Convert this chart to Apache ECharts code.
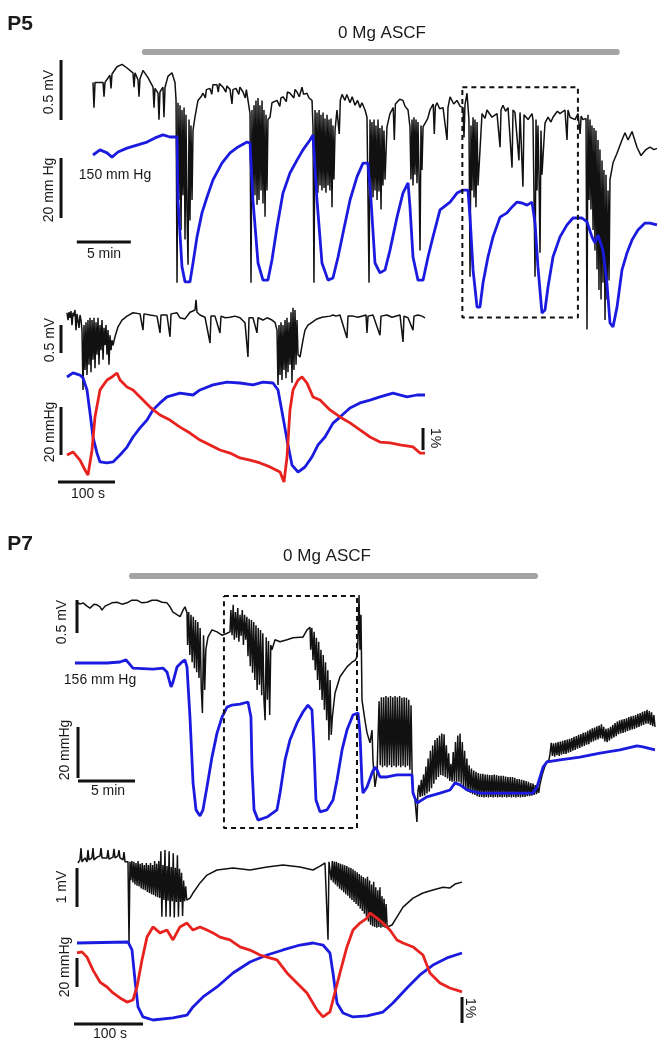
<!DOCTYPE html>
<html>
<head>
<meta charset="utf-8">
<title>P5 / P7 0 Mg ASCF</title>
<script src="https://cdn.jsdelivr.net/npm/echarts@6/dist/echarts.min.js"></script>
<style>
  html, body { margin: 0; padding: 0; background: #fff; }
  #chart { width: 670px; height: 1050px; }
</style>
</head>
<body>
<div id="chart"></div>
<script>
// ---------- P5 overview: [min, mV] and [min, mmHg]
const P5_BLACK = [
    [0.00,0.18],[0.09,-0.03],[0.19,0.18],[0.46,0.18],[0.93,0.18],[1.02,0.06],[1.11,0.18],[1.57,0.24],[1.67,0.13],[1.76,0.25],
    [2.22,0.31],[2.69,0.33],[3.15,0.30],[3.70,0.26],[3.80,0.14],[3.89,0.26],[4.17,0.20],[4.26,0.06],[4.35,0.21],[4.63,0.28],
    [5.09,0.22],[5.56,0.14],[5.65,-0.03],[5.74,0.13],[6.02,0.09],[6.11,-0.13],[6.20,0.10],[6.48,0.14],[6.57,-0.11],[6.67,0.14],
    [6.94,0.23],[7.31,0.26],[7.59,0.18],[7.69,0.03],[7.78,-1.49],[7.87,0.01],
    [7.96,-0.80],[8.06,-0.01],[8.15,-1.05],[8.24,-0.05],[8.33,-0.76],[8.43,-0.03],[8.52,-1.13],[8.61,-0.09],[8.70,-0.88],[8.80,-1.34],
    [8.89,-0.13],[8.98,-0.97],[9.07,-0.18],[9.17,-0.80],[9.26,-0.22],
    [9.44,-0.11],[9.72,0.03],[10.0,0.06],[10.19,0.09],[10.4,0.05],[10.5,0.12],[10.83,0.13],[11.0,0.08],[11.1,0.16],[11.48,0.16],
    [11.6,0.10],[11.7,0.17],[12.04,0.14],[12.3,0.10],[12.4,0.15],[12.69,0.12],[12.87,0.00],[12.96,0.12],[13.24,0.13],[13.5,0.08],
    [13.6,0.14],[13.89,0.10],[14.1,0.05],[14.2,0.12],[14.35,0.12],[14.54,-0.08],[14.63,-1.49],[14.72,-0.05],
    [14.81,-0.80],[14.91,-0.01],[15.00,-0.76],[15.09,0.03],[15.19,-0.84],[15.28,0.05],[15.37,-0.80],[15.46,-0.01],[15.56,-0.72],[15.65,0.03],
    [15.74,-0.83],[15.83,-0.05],[15.93,-0.94],[16.02,-0.09],[16.11,-0.72],[16.20,-0.13],
    [16.39,-0.11],[16.57,0.01],[17.04,0.03],[17.3,-0.02],[17.4,0.05],[17.59,0.06],[17.9,0.02],[18.0,0.10],[18.24,0.09],[18.6,0.05],
    [18.7,0.12],[18.89,0.10],[19.1,0.06],[19.35,0.14],[19.5,0.08],[19.81,0.09],[20.0,0.05],[20.28,0.03],[20.37,-0.19],
    [20.46,-1.49],[20.56,-0.05],
    [20.65,-0.72],[20.74,-0.07],[20.83,-0.74],[20.93,-0.05],[21.02,-0.68],[21.11,-0.09],[21.20,-0.72],[21.30,-0.07],[21.39,-0.70],[21.48,-0.12],
    [21.57,-0.74],[21.67,-0.09],[21.76,-0.68],[21.85,-0.13],[21.94,-0.72],[22.04,-0.12],[22.13,-0.86],[22.22,-0.18],[22.31,-0.63],[22.41,-0.22],
    [22.59,-0.05],[22.8,-0.25],[22.9,0.03],[23.06,0.08],[23.33,0.03],[23.5,0.08],[23.80,0.01],[24.0,0.06],[24.26,-0.01],[24.5,0.03],
    [24.72,-0.03],[24.9,0.01],[25.19,-0.05],[25.37,-0.11],
    [25.56,-1.49],[25.65,-0.13],
    [25.74,-0.76],[25.83,-0.15],[25.93,-0.78],[26.02,-0.13],[26.11,-0.72],[26.20,-0.18],[26.30,-0.80],[26.39,-0.13],[26.48,-0.73],[26.57,-0.20],
    [26.67,-0.88],[26.76,-0.18],[26.85,-0.68],[26.94,-0.22],[27.04,-0.63],
    [27.22,-0.19],[27.50,-0.08],[27.8,-0.03],[27.9,-0.30],[28.0,0.0],[28.15,-0.01],[28.4,0.04],[28.70,0.03],[28.9,-0.02],[29.17,-0.05],
    [29.35,-0.19],
    [29.44,-0.63],[29.54,-0.13],[29.63,-0.68],[29.72,-0.11],[29.81,-0.59],[29.91,-0.13],[30.00,-0.66],[30.09,-0.15],[30.19,-0.62],[30.28,-1.22],
    [30.37,-0.18],[30.46,-0.55],[30.56,-0.19],
    [30.74,-0.19],[31.0,-0.12],[31.20,-0.05],[31.5,0.0],[31.6,-0.25],[31.7,-0.02],[31.85,0.01],[32.1,-0.04],[32.41,-0.03],[32.78,-0.30],
    [32.87,-0.03],[33.06,0.06],[33.4,0.0],[33.70,0.03],[34.0,-0.02],[34.26,-0.03],[34.35,-0.28],[34.44,-0.01],[34.63,0.09],
    [34.81,-0.13],[34.91,-1.44],[35.00,-0.18],[35.09,-0.72],[35.19,-0.11],[35.28,-0.78],[35.37,-0.13],[35.46,-0.86],[35.56,-0.15],[35.65,-0.68],
    [36.02,-0.08],[36.3,-0.12],[36.48,-0.05],[36.94,-0.11],[37.41,-0.08],[37.69,-0.36],[37.78,-0.05],[37.96,-0.01],[38.2,-0.06],[38.43,-0.03],
    [38.80,-0.53],[38.89,-0.05],[39.07,-0.07],[39.44,-0.47],[39.54,-0.07],[39.81,-0.69],[39.91,-0.09],[40.28,-0.13],[40.65,-0.08],
    [40.74,-0.13],[40.93,-1.44],[41.02,-0.13],[41.11,-0.72],[41.20,-0.18],[41.30,-0.63],[41.39,-1.24],[41.48,-0.22],[41.57,-0.59],
    [41.85,-0.16],[42.13,-0.11],[42.4,-0.15],[42.59,-0.11],[43.0,-0.06],[43.24,-0.08],[43.70,-0.05],[43.89,-0.30],[43.98,-0.05],[44.17,-0.11],
    [44.63,-0.13],[44.91,-0.08],[45.1,-0.25],[45.2,-0.10],[45.37,-0.13],[45.65,-0.12],[45.74,-1.88],[45.83,-0.09],
    [45.93,-0.80],[46.02,-0.13],[46.11,-0.88],[46.20,-0.18],[46.30,-1.05],[46.39,-0.20],[46.48,-1.22],[46.57,-0.22],[46.67,-1.38],[46.76,-0.30],
    [46.85,-1.55],[46.94,-0.38],[47.04,-1.63],[47.13,-0.47],[47.22,-1.49],[47.31,-0.55],[47.41,-1.80],[47.50,-0.59],[47.59,-1.63],[47.69,-0.72],
    [47.78,-1.47],[47.87,-0.63],
    [48.15,-0.49],[48.52,-0.41],[48.98,-0.30],[49.26,-0.24],[49.54,-0.30],[49.91,-0.23],[50.37,-0.36],[50.74,-0.43],[51.20,-0.38],[51.57,-0.36],
    [51.94,-0.38],[52.22,-0.37]
];
const P5_BLUE = [
    [0,150],[0.65,151.7],[1.30,150.7],[1.76,149.3],[2.31,151],[3.15,152.3],[4.07,153.3],[5.00,154.3],[5.74,155.7],[6.48,156.7],
    [7.13,156],[7.78,156],[7.87,135],[8.24,112.7],[8.52,107.7],[8.98,107.7],[9.26,114],[9.63,122.7],[10.09,130.7],[10.56,136],
    [11.11,141.7],[11.94,147.3],[12.69,150.7],[13.43,152.7],[14.26,154.3],[14.54,154],[14.81,135],[15.28,114],[15.74,108.3],[16.20,108.3],
    [16.57,115],[17.04,126],[17.59,137.3],[18.24,144],[18.89,148.3],[19.44,151.7],[20.09,155],[20.37,156.7],[20.74,135],[21.20,114],
    [21.76,108.3],[22.22,109],[22.69,116],[23.15,124],[23.80,135],[24.44,142.7],[25.00,147.3],[25.46,147.3],[25.74,135],[26.11,114],
    [26.57,110.7],[27.04,111.7],[27.50,118.3],[28.15,129.3],[28.70,137.3],[29.17,140.7],[29.35,132.7],[29.63,116],[30.09,108.3],[30.56,108.3],
    [31.02,116],[31.48,122.7],[32.13,131.7],[33.06,134.3],[33.70,137.3],[34.26,138.3],[34.72,138.3],[34.91,129.3],[35.19,111.7],[35.56,99.3],
    [35.83,99.3],[36.11,107.3],[36.57,116],[37.04,122.7],[37.69,129.3],[38.33,130.7],[38.80,132.7],[39.26,134.3],[39.72,134],[40.19,133.3],
    [40.65,134.3],[40.93,127.3],[41.20,112.7],[41.57,97.3],[41.85,98.3],[42.13,106],[42.59,116],[43.24,122.7],[43.89,126.7],[44.44,129],
    [45.28,129],[45.74,127.7],[46.20,122.7],[46.48,120.7],[46.76,123.3],[47.22,118.3],[47.59,107.3],[47.87,94],[48.15,92.7],[48.52,99.3],
    [48.98,111.7],[49.44,117.3],[49.91,121.7],[50.46,125],[51.11,127.3],[51.57,127.3],[52.22,126.7]
];
// drug bar, zoom window and scale bars of the P5 overview
const P5_DRUG = [[4.8,0.433],[48.5,0.433]];
const P5_BOX = [[34.2,0.14],[44.9,0.14],[44.9,-1.78],[34.2,-1.78],[34.2,0.14]];
const P5_BAR_MV = [[-2.96,0.367],[-2.96,-0.133]];
const P5_BAR_HG = [[-2.96,149],[-2.96,129]];
const P5_BAR_MIN = [[-1.5,-1.15],[3.5,-1.15]];

// ---------- P5 detail: [s, mV], [s, mmHg], [s, %]
const P5D_BLACK = [
    [0,0.04],[1.8,-0.09],[3.5,0.05],[5.3,-0.05],[7.0,0.07],[8.8,-0.18],[10.5,0.04],[12.3,-0.02],[14.0,0.09],[15.8,-0.27],
    [17.5,0.02],[19.3,0.05],[21.1,-0.23],[22.8,0],[24.6,-0.09],
    [26.3,-0.27],[28.1,-1.34],[29.8,-0.18],[31.6,-0.98],[33.3,-0.13],[35.1,-1.07],[36.8,-0.09],[38.6,-0.89],[40.4,-0.05],[42.1,-1.02],
    [43.9,-0.09],[45.6,-0.80],[47.4,-0.05],[49.1,-0.95],[50.9,-0.13],[52.6,-0.71],[54.4,-0.05],[56.1,-0.89],[57.9,-0.18],[59.6,-0.63],
    [61.4,-0.09],[63.2,-0.80],[64.9,-0.23],[66.7,-0.54],[68.4,-0.18],[70.2,-0.71],[71.9,-0.27],[73.7,-0.89],[75.4,-0.36],[77.2,-0.63],
    [78.9,-0.45],
    [80.7,-0.54],[84.2,-0.39],[89.5,-0.21],[96.5,-0.09],[105.3,-0.02],[115.8,0.04],[128.1,0.02],[133.3,-0.27],[135.1,0.02],[145.6,0],
    [157.9,-0.02],[163.2,-0.32],[164.9,0],[175.4,0],[180.7,-0.39],[182.5,0.02],[193.0,0.04],[198.2,-0.05],[207.0,-0.07],[215.8,0.05],
    [224.6,0.09],[226.3,0.27],[228.1,0.05],[233.3,0],[242.1,-0.04],[250.9,-0.50],[252.6,-0.02],[259.6,-0.02],[268.4,-0.32],[270.2,-0.02],
    [277.2,-0.05],[286.0,-0.04],[294.7,-0.02],[303.5,-0.05],[312.3,-0.14],[317.5,-0.75],[319.3,-0.05],[326.3,-0.05],[333.3,-0.32],[335.1,-0.05],
    [343.9,-0.09],[350.9,-0.05],[359.6,-0.09],[364.9,-0.13],
    [368.4,-0.27],[370.2,-1.25],[371.9,-0.18],[373.7,-1.07],[375.4,-0.13],[377.2,-1.16],[378.9,-0.18],[380.7,-0.98],[382.5,-0.09],[384.2,-1.13],
    [386.0,-0.05],[387.7,-1.02],[389.5,-0.13],[391.2,-0.89],[393.0,0.05],[394.7,-1.21],[396.5,0.13],[398.2,-0.98],[400.0,0.09],[401.8,-0.89],
    [403.5,-0.09],[405.3,-0.71],
    [408.8,-0.75],[414.0,-0.45],[417.5,-0.27],[422.8,-0.18],[429.8,-0.13],[438.6,-0.07],[447.4,-0.04],[461.4,-0.02],[466.7,0],[471.9,-0.02],
    [478.9,0],[491.2,-0.41],[493.0,-0.02],[501.8,-0.02],[510.5,-0.04],[524.6,0],[526.3,-0.32],[528.1,-0.02],[536.8,0],[549.1,-0.36],
    [550.9,-0.02],[561.4,0],[570.2,-0.04],[584.2,0],[589.5,-0.48],[591.2,-0.02],[598.2,-0.05],[607.0,-0.27],[608.8,-0.02],[615.8,0],
    [622.8,-0.02],[628.1,-0.05]
];
const P5D_BLUE = [
    [0,150],[10.5,151.7],[22.8,150.8],[28.1,149.6],[35.1,144.6],[40.4,135],[45.6,125],[52.6,118.3],[57.9,114.6],[70.2,114.2],
    [80.7,114.6],[93.0,117.5],[105.3,120.8],[115.8,125],[128.1,128.8],[140.4,132.1],[150.9,136.3],[163.2,139.2],[175.4,141.7],[198.2,143.3],
    [221.1,142.5],[233.3,144.6],[256.1,146.7],[280.7,147.9],[303.5,147.5],[326.3,146.7],[343.9,147.9],[361.4,147.5],[370.2,144.6],[378.9,133.3],
    [386.0,123.8],[394.7,113.3],[405.3,110.4],[417.5,112.5],[429.8,116.7],[440.4,121.7],[452.6,125],[466.7,130.8],[478.9,133.3],[496.5,137.1],
    [514.0,139.2],[531.6,140.4],[549.1,141.7],[571.9,143.3],[596.5,141.7],[614.0,142.5],[628.1,142.5]
];
const P5D_RED = [
    [0,0.68],[10.5,0.82],[22.8,0.45],[31.6,0],[36.8,-0.23],[43.9,0.91],[49.1,2.41],[57.9,3.64],[70.2,4.09],[78.9,4.23],
    [87.7,4.41],[93.0,4.09],[105.3,3.77],[115.8,3.64],[128.1,3.32],[145.6,2.86],[163.2,2.50],[180.7,2.27],[198.2,1.95],[215.8,1.68],
    [233.3,1.36],[250.9,1.14],[268.4,0.91],[286.0,0.77],[303.5,0.55],[321.1,0.45],[338.6,0.32],[356.1,0.14],[373.7,-0.09],[380.7,-0.55],
    [386.0,0.59],[391.2,2.73],[396.5,3.64],[405.3,4.09],[412.3,4.23],[421.1,3.95],[431.6,3.32],[443.9,3.18],[461.4,2.73],[478.9,2.41],
    [496.5,2.14],[514.0,1.82],[531.6,1.50],[549.1,1.27],[566.7,1.23],[584.2,1.14],[607.0,1.05],[619.3,0.77],[628.1,0.77]
];
const P5D_BAR_MV = [[-10.5,-0.18],[-10.5,-0.68]];
const P5D_BAR_HG = [[-10.5,137.5],[-10.5,117.5]];
const P5D_BAR_S = [[-15.8,-2.98],[84.2,-2.98]];
const P5D_BAR_PCT = [[624.6,1.91],[624.6,0.91]];

// ---------- P7 overview: [min, mV] and [min, mmHg]
const P7_BLACK = [
    [0,0.27],[0.26,0.24],[0.53,0.26],[0.88,0.21],[1.14,0.18],[1.49,0.24],[1.75,0.23],[2.02,0.20],[2.19,0.15],[2.46,0.21],
    [2.63,0.23],[3.07,0.26],[3.51,0.27],[3.95,0.24],[4.39,0.26],[4.82,0.30],[5.26,0.30],[5.70,0.26],[6.14,0.27],[6.58,0.30],
    [7.02,0.30],[7.46,0.27],[7.89,0.26],[8.16,0.20],[8.42,0.12],[8.77,0.08],[9.04,0.05],[9.30,0.15],[9.47,0.20],[9.65,0.11],
    [9.7,-0.38],[9.8,0.12],[9.9,-0.53],[10.0,0.08],[10.1,-0.64],[10.2,0.05],[10.3,-0.73],[10.4,0.0],[10.5,-0.79],[10.6,-0.03],
    [10.7,-0.88],[10.8,-0.12],[10.9,-1.03],[11.0,-1.41],[11.1,-0.23],[11.2,-1.06],
    [11.3,-0.45],[11.49,-0.26],[11.84,-0.15],[12.28,-0.18],[12.72,-0.23],[13.16,-0.20],[13.42,-0.18],
    [13.5,0.15],[13.6,-0.23],[13.7,0.23],[13.8,-0.30],[13.9,0.12],[14.0,-0.27],[14.1,0.18],[14.2,-0.33],[14.3,0.08],[14.4,-0.24],
    [14.5,0.15],[14.6,-0.38],[14.7,0.08],[14.8,-0.30],[14.9,0.05],[15.0,-0.55],[15.1,0.02],[15.2,-0.70],[15.3,0.0],[15.4,-0.80],
    [15.5,-0.03],[15.6,-0.91],[15.7,-0.08],[15.8,-1.06],[15.9,-0.12],[16.0,-0.98],[16.1,-0.15],[16.2,-1.14],[16.3,-0.20],[16.4,-1.21],
    [16.5,-1.52],[16.6,-0.26],[16.7,-1.21],[16.8,-0.32],[16.9,-1.44],[17.0,-0.38],
    [17.1,-0.45],[17.37,-0.30],[17.81,-0.33],[18.42,-0.30],[18.95,-0.27],[19.56,-0.26],[19.82,-0.26],[20.18,-0.15],[20.44,-0.11],
    [20.5,-0.45],[20.6,-0.12],[20.7,-0.61],[20.8,-0.18],[20.9,-0.76],[21.0,-0.27],[21.1,-0.91],[21.2,-0.33],[21.3,-1.06],[21.4,-0.45],
    [21.5,-1.21],[21.6,-0.53],[21.7,-1.36],[21.8,-0.64],[21.9,-1.52],[22.0,-0.76],[22.1,-1.82],[22.2,-0.91],[22.3,-1.74],[22.4,-1.47],
    [22.63,-1.11],[23.07,-0.86],[23.68,-0.71],[24.12,-0.64],[24.39,-0.61],[24.56,-0.56],
    [24.65,-0.30],[24.74,0.38],[24.82,-0.45],[24.91,0.08],[25.0,-1.21],
    [25.09,-1.32],[25.26,-1.52],[25.44,-1.71],[25.7,-1.86],[25.88,-1.67],[25.96,-2.12],[26.14,-2.53],[26.32,-2.32],
    [26.4,-1.82],[26.5,-1.23],[26.6,-2.20],[26.7,-1.17],[26.8,-2.23],[26.9,-1.17],[27.0,-2.21],[27.1,-1.15],[27.2,-2.23],[27.3,-1.17],
    [27.4,-2.20],[27.5,-1.15],[27.6,-2.23],[27.7,-1.17],[27.8,-2.21],[27.9,-1.15],[28.0,-2.23],[28.1,-1.17],[28.2,-2.21],[28.3,-1.15],
    [28.4,-2.23],[28.5,-1.18],[28.6,-2.21],[28.7,-1.17],[28.8,-2.23],[28.9,-1.18],[29.0,-2.21],[29.1,-1.21],[29.2,-2.27],[29.3,-1.29],
    [29.4,-2.35],
    [29.47,-2.58],[29.65,-2.73],[29.82,-3.06],[29.91,-2.58],
    [30.0,-2.50],[30.1,-2.68],[30.2,-2.42],[30.3,-2.67],[30.4,-2.34],[30.5,-2.66],[30.6,-2.22],[30.7,-2.63],[30.8,-2.10],[30.9,-2.60],
    [31.0,-1.98],[31.1,-2.55],[31.2,-1.90],[31.3,-2.48],[31.4,-1.82],[31.5,-2.42],[31.6,-1.79],[31.7,-2.38],[31.8,-1.75],[31.9,-2.35],
    [32.0,-1.72],[32.1,-2.36],[32.2,-1.73],[32.3,-2.38],[32.4,-1.90],[32.5,-2.40],[32.6,-2.02],[32.7,-2.44],[32.8,-2.18],[32.9,-2.45],
    [33.0,-2.00],[33.1,-2.45],[33.2,-1.85],[33.3,-2.45],[33.4,-1.75],[33.5,-2.45],[33.6,-1.72],[33.7,-2.48],[33.8,-1.85],[33.9,-2.52],
    [34.0,-1.98],[34.1,-2.58],[34.2,-2.10],[34.3,-2.60],[34.4,-2.20],[34.5,-2.62],[34.6,-2.25],[34.7,-2.64],[34.8,-2.28],[34.9,-2.65],
    [35.0,-2.30],[35.1,-2.67],[35.2,-2.32],[35.3,-2.68],
    [35.4,-2.33],[35.5,-2.68],[35.6,-2.33],[35.7,-2.69],[35.8,-2.34],[35.9,-2.68],[36.0,-2.34],[36.1,-2.69],[36.2,-2.35],[36.3,-2.68],
    [36.4,-2.35],[36.5,-2.69],[36.6,-2.34],[36.7,-2.68],[36.8,-2.35],[36.9,-2.69],[37.0,-2.36],[37.1,-2.68],[37.2,-2.36],[37.3,-2.69],
    [37.4,-2.36],[37.5,-2.68],[37.6,-2.37],[37.7,-2.69],[37.8,-2.38],[37.9,-2.68],[38.0,-2.38],[38.1,-2.69],[38.2,-2.38],[38.3,-2.68],
    [38.4,-2.39],[38.5,-2.69],[38.6,-2.41],[38.7,-2.68],[38.8,-2.41],[38.9,-2.69],[39.0,-2.42],[39.1,-2.68],[39.2,-2.43],[39.3,-2.68],
    [39.4,-2.44],[39.5,-2.67],[39.6,-2.45],[39.7,-2.67],[39.8,-2.47],[39.9,-2.66],[40.0,-2.48],[40.1,-2.65],[40.2,-2.50],[40.3,-2.64],
    [40.4,-2.52],[40.5,-2.62],
    [40.6,-2.50],[40.8,-2.35],[41.0,-2.24],[41.2,-2.15],[41.4,-2.12],[41.5,-2.02],
    [41.6,-1.86],[41.7,-2.06],[41.8,-1.87],[41.9,-2.07],[42.0,-1.86],[42.1,-2.05],[42.2,-1.85],[42.3,-2.06],[42.4,-1.84],[42.5,-2.04],
    [42.6,-1.83],[42.7,-2.03],[42.8,-1.82],[42.9,-2.03],[43.0,-1.81],[43.1,-2.01],[43.2,-1.80],[43.3,-2.00],[43.4,-1.79],[43.5,-1.98],
    [43.6,-1.77],[43.7,-1.97],[43.8,-1.76],[43.9,-1.95],[44.0,-1.74],[44.1,-1.94],[44.2,-1.73],[44.3,-1.92],[44.4,-1.71],[44.5,-1.91],
    [44.6,-1.70],[44.7,-1.89],[44.8,-1.68],[44.9,-1.88],[45.0,-1.66],[45.1,-1.85],[45.2,-1.64],[45.3,-1.84],[45.4,-1.63],[45.5,-1.82],
    [45.6,-1.61],[45.7,-1.81],[45.8,-1.60],[45.9,-1.79],[46.0,-1.58],[46.1,-1.80],[46.2,-1.62],[46.3,-1.84],[46.4,-1.65],[46.5,-1.85],
    [46.6,-1.64],[46.7,-1.83],[46.8,-1.62],[46.9,-1.80],[47.0,-1.59],[47.1,-1.78],[47.2,-1.56],[47.3,-1.76],[47.4,-1.54],[47.5,-1.73],
    [47.6,-1.52],[47.7,-1.72],[47.8,-1.51],[47.9,-1.71],[48.0,-1.50],[48.1,-1.70],[48.2,-1.49],[48.3,-1.68],[48.4,-1.47],[48.5,-1.67],
    [48.6,-1.46],[48.7,-1.66],[48.8,-1.45],[48.9,-1.65],[49.0,-1.44],[49.1,-1.63],[49.2,-1.42],[49.3,-1.62],[49.4,-1.41],[49.5,-1.60],
    [49.6,-1.39],[49.7,-1.59],[49.8,-1.38],[49.9,-1.57],[50.0,-1.36],[50.1,-1.57],[50.2,-1.38],[50.3,-1.59],[50.4,-1.40],[50.5,-1.61],
    [50.6,-1.44],[50.7,-1.62]
];
const P7_BLUE = [
    [-0.18,156],[2.63,156],[3.77,156.4],[4.3,157.2],[4.91,154],[6.67,153.6],[7.54,154],[7.89,152.5],[8.25,146.6],[8.42,148.5],
    [8.77,154.4],[9.21,156.4],[9.47,157.2],[9.65,154.4],[9.91,134.8],[10.18,109],[10.44,98.4],[10.79,96],[11.05,98.4],[11.4,107.4],
    [11.84,119.1],[12.28,128.5],[12.72,134.8],[13.16,138.7],[13.6,139.5],[14.3,139.9],[15.0,140.7],[15.26,134.8],[15.35,115.2],[15.53,98.4],
    [15.88,94.4],[16.67,95.6],[17.54,98.4],[17.81,105],[18.25,118],[18.68,125.8],[19.3,132.5],[19.82,136.8],[20.26,139.5],[20.61,137.6],
    [20.79,121.9],[20.96,102.3],[21.32,97.6],[21.93,98.4],[22.46,102.3],[22.81,110.1],[23.25,121.9],[23.68,129.7],[24.21,135.6],[24.65,136.4],
    [24.82,128.5],[25.0,109],[25.09,105],[25.44,107.4],[25.88,112.9],[26.14,115.2],[26.32,114],[26.58,111.3],[27.19,111.3],[28.07,112.1],
    [29.39,112.1],[29.47,105],[29.82,101.1],[30.7,103.5],[31.84,105],[32.72,106.2],[33.16,109],[33.6,108.2],[34.21,106.2],[35.35,105],
    [37.11,105],[38.86,105],[40.0,105],[40.35,107.4],[40.88,115.2],[41.23,117.2],[42.37,118],[44.12,119.1],[45.88,120.7],[47.63,121.9],
    [49.12,123.5],[49.65,123.1],[50.7,121.9]
];
const P7_DRUG = [[4.82,0.667],[40.18,0.667]];
const P7_BOX = [[12.89,0.364],[24.56,0.364],[24.56,-3.152],[12.89,-3.152],[12.89,0.364]];
const P7_BAR_MV = [[0,0.303],[0,-0.197]];
const P7_BAR_HG = [[0.09,130.9],[0.09,110.9]];
const P7_BAR_MIN = [[0.09,-2.44],[5.09,-2.44]];

// ---------- P7 detail: [s, mV], [s, mmHg], [s, %]
const P7D_BLACK = [
    [1.4,0],[4.3,0.08],[5.8,0.38],[7.2,0.03],[11.6,0.13],[14.5,0.03],[15.9,0.33],[17.4,0.08],[21.7,0.13],[23.2,0.38],
    [24.6,0.08],[29.0,0.15],[33.3,0.18],[34.8,0.38],[36.2,0.13],[43.5,0.13],[44.9,0.33],[46.4,0.10],[52.2,0.15],[53.6,0.36],
    [55.1,0.13],[59.4,0.18],[60.9,0.33],[62.3,0.13],[66.7,0.08],[68.1,0.28],[69.6,0.03],[73.9,0.03],
    [75.4,-2.05],[76.8,0.03],
    [78,-0.44],[79.5,0.05],[81,-0.50],[82.5,0.03],[84,-0.55],[85.5,0.0],[87,-0.58],[88.5,0.05],[90,-0.60],[91.5,-0.02],
    [93,-0.65],[94.5,0.0],[96,-0.68],[97.5,-0.05],[99,-0.70],[100.5,0.0],[102,-0.74],[103.5,-0.05],[105,-0.77],[106.5,0.0],
    [108,-0.80],[109.5,-0.05],[111,-0.82],[112.5,0.05],[114,-0.86],[115.5,-0.02],[117,-0.88],[118.5,0.05],[120,-0.90],[121.5,0.30],
    [123,-1.38],[124.5,-0.05],[126,-0.95],[127.5,0.33],[129,-1.38],[130.5,-0.08],[132,-0.97],[133.5,0.30],[135,-1.38],[136.5,-0.10],
    [138,-0.98],[139.5,0.25],[141,-1.40],[142.5,-0.12],[144,-1.0],[145.5,0.20],[147,-1.38],[148.5,-0.15],[150,-1.0],[151.5,-0.25],
    [153,-1.36],[154.5,-0.45],[156,-0.98],[157.5,-0.60],[159,-0.95],[159.4,-0.90],[163.8,-0.90],
    [168.1,-0.77],[178.3,-0.51],[188.4,-0.31],[202.9,-0.18],[226.1,-0.13],[250.7,-0.18],[275.4,-0.10],[298.6,-0.05],[323.2,-0.10],[342.0,-0.18],
    [352.2,-0.08],[359.4,0],
    [363.8,-1.97],[365.2,0.03],
    [367,0.08],[368.5,-0.44],[370,0.05],[371.5,-0.50],[373,0.04],[374.5,-0.55],[376,0.03],[377.5,-0.60],[379,0.0],[380.5,-0.66],
    [382,-0.02],[383.5,-0.70],[385,-0.04],[386.5,-0.75],[388,-0.06],[389.5,-0.80],[391,-0.08],[392.5,-0.84],[394,-0.11],[395.5,-0.90],
    [397,-0.13],[398.5,-0.95],[400,-0.16],[401.5,-1.00],[403,-0.20],[404.5,-1.05],[406,-0.24],[407.5,-1.10],[409,-0.28],[410.5,-1.17],
    [412,-0.32],[413.5,-1.23],[415,-0.36],[416.5,-1.30],[418,-0.40],[419.5,-1.38],[421,-0.35],[422.5,-1.50],[424,-0.45],[425.5,-1.58],
    [427,-0.55],[428.5,-1.62],[430,-0.48],[431.5,-1.64],[433,-0.62],[434.5,-1.66],[436,-0.70],[437.5,-1.64],[439,-0.62],[440.5,-1.66],
    [442,-0.85],[443.5,-1.64],[445,-0.92],[446.5,-1.66],[448,-1.05],[449.5,-1.64],
    [450.7,-1.67],[456.5,-1.59],[463.8,-1.38],[472.5,-1.13],[487.0,-0.90],[501.4,-0.77],[515.9,-0.69],[530.4,-0.62],[540.6,-0.64],[547.8,-0.54],
    [558.0,-0.49]
];
const P7D_BLUE = [
    [0,156],[73.9,156.7],[79.7,151.2],[84.0,130.5],[88.4,111.9],[95.6,105],[110.1,102.9],[139.1,104.3],[159.4,106.3],[168.1,111.9],
    [182.6,118.8],[202.9,125.7],[226.1,135.3],[250.7,142.9],[275.4,147.7],[298.6,151.2],[323.2,154.6],[342.0,156],[356.5,154.6],[366.6,149.1],
    [371.0,135.3],[376.8,114.6],[385.5,107.7],[400.0,105],[420.3,105.7],[443.4,108.4],[457.9,114.6],[478.2,125],[497.0,134],[515.9,140.8],
    [536.2,145.7],[558.0,149.1]
];
const P7D_RED = [
    [0,1.81],[7.2,1.85],[14.5,1.65],[23.2,1.15],[33.3,0.69],[43.5,0.5],[52.2,0.27],[62.3,0.08],[72.5,-0.08],[81.1,0],
    [86.9,0.5],[94.2,1.54],[101.4,2.42],[110.1,2.81],[120.3,2.58],[130.4,2.69],[139.1,2.31],[149.2,2.81],[159.4,2.96],[168.1,2.69],
    [178.3,2.81],[188.4,2.69],[197.1,2.58],[207.2,2.42],[221.7,2.31],[236.2,2.04],[250.7,1.92],[265.2,1.73],[275.4,1.65],[289.8,1.54],
    [304.3,1.04],[318.8,0.65],[333.3,0.27],[347.8,-0.38],[356.5,-0.65],[366.6,-0.46],[371.0,0],[381.1,1.04],[391.2,2.04],[400.0,2.69],
    [410.1,2.96],[420.3,3.15],[424.6,3.35],[434.7,3.15],[443.4,2.96],[453.5,2.69],[463.7,2.31],[472.5,2.19],[487.0,2.04],[501.4,1.73],
    [511.5,1.04],[526.0,0.65],[540.4,0.46],[558.0,0.31]
];
const P7D_BAR_MV = [[0,-0.128],[0,-1.128]];
const P7D_BAR_HG = [[0,145.7],[0,125.7]];
const P7D_BAR_S = [[-4.3,-4.13],[95.7,-4.13]];
const P7D_BAR_PCT = [[558,0.115],[558,-0.885]];

// ---------- layout
const GRIDS = [
    { left: 49.8, top: 44, width: 615.6, height: 297 },
    { left: 38.5, top: 294, width: 416.1, height: 205 },
    { left: 42.8, top: 570, width: 627, height: 265 },
    { left: 49.4, top: 840, width: 434.7, height: 205 }
];
const X_RANGES = [[-4, 53], [-50, 680], [-3, 52], [-40, 590]];
// grid index, pixel row, value at that row, pixels per unit
const Y_SCALES = [
    [0, 104, 0, 120], [0, 155, 150, 3],
    [1, 315, 0, 56], [1, 377, 150, 2.4], [1, 470, 0, 22],
    [2, 620, 0, 66], [2, 663, 156, 2.55],
    [3, 863, 0, 39], [3, 943, 156, 1.45], [3, 1000, 0, 26]
];

const BLACK = '#111111';
const BLUE = '#1b1be0';
const RED = '#e8231f';
const GREY = '#a3a3a3';
const FONT = 'Liberation Sans, Arial, sans-serif';

function yAxisFor(s) {
    const g = GRIDS[s[0]];
    const max = s[2] + (s[1] - g.top) / s[3];
    return { type: 'value', gridIndex: s[0], min: max - g.height / s[3], max: max, show: false };
}

function trace(data, xi, yi, color, width, extra) {
    return Object.assign({
        type: 'line', data: data, xAxisIndex: xi, yAxisIndex: yi,
        symbol: 'none', showSymbol: false, smooth: false, clip: false, silent: true,
        lineStyle: { color: color, width: width }
    }, extra || {});
}

function bar(data, xi, yi) {
    return trace(data, xi, yi, BLACK, 3, { z: 5 });
}

function label(text, x, y, opts) {
    opts = opts || {};
    return {
        type: 'text', x: x, y: y, rotation: opts.rot || 0, silent: true,
        style: {
            text: text, fill: '#1a1a1a',
            font: (opts.weight || 'normal') + ' ' + (opts.size || 14) + 'px ' + FONT,
            align: 'center', verticalAlign: 'middle',
            textAlign: 'center', textVerticalAlign: 'middle'
        }
    };
}

const UP = Math.PI / 2;
const DOWN = -Math.PI / 2;
const EEG_W = 1.5;

const chart = echarts.init(document.getElementById('chart'), null, { renderer: 'canvas' });

chart.setOption({
    backgroundColor: '#ffffff',
    animation: false,
    grid: GRIDS,
    xAxis: X_RANGES.map((r, i) => ({ type: 'value', gridIndex: i, min: r[0], max: r[1], show: false })),
    yAxis: Y_SCALES.map(yAxisFor),
    series: [
        // P5 overview
        trace(P5_DRUG, 0, 0, GREY, 6, { lineStyle: { color: GREY, width: 6, cap: 'round' } }),
        trace(P5_BLACK, 0, 0, BLACK, EEG_W),
        trace(P5_BLUE, 0, 1, BLUE, 2.8),
        trace(P5_BOX, 0, 0, BLACK, 2, { lineStyle: { color: BLACK, width: 2, type: [5, 4] } }),
        bar(P5_BAR_MV, 0, 0), bar(P5_BAR_HG, 0, 1), bar(P5_BAR_MIN, 0, 0),
        // P5 detail
        trace(P5D_BLACK, 1, 2, BLACK, EEG_W),
        trace(P5D_BLUE, 1, 3, BLUE, 2.8),
        trace(P5D_RED, 1, 4, RED, 2.8),
        bar(P5D_BAR_MV, 1, 2), bar(P5D_BAR_HG, 1, 3), bar(P5D_BAR_S, 1, 2), bar(P5D_BAR_PCT, 1, 4),
        // P7 overview
        trace(P7_DRUG, 2, 5, GREY, 6, { lineStyle: { color: GREY, width: 6, cap: 'round' } }),
        trace(P7_BLACK, 2, 5, BLACK, EEG_W),
        trace(P7_BLUE, 2, 6, BLUE, 2.8),
        trace(P7_BOX, 2, 5, BLACK, 2, { lineStyle: { color: BLACK, width: 2, type: [5, 4] } }),
        bar(P7_BAR_MV, 2, 5), bar(P7_BAR_HG, 2, 6), bar(P7_BAR_MIN, 2, 5),
        // P7 detail
        trace(P7D_BLACK, 3, 7, BLACK, EEG_W),
        trace(P7D_BLUE, 3, 8, BLUE, 2.8),
        trace(P7D_RED, 3, 9, RED, 2.8),
        bar(P7D_BAR_MV, 3, 7), bar(P7D_BAR_HG, 3, 8), bar(P7D_BAR_S, 3, 7), bar(P7D_BAR_PCT, 3, 9)
    ],
    graphic: [
        label('P5', 20, 24, { size: 21, weight: 'bold' }),
        label('0 Mg ASCF', 382, 33, { size: 17 }),
        label('0.5 mV', 49, 92, { rot: UP }),
        label('20 mm Hg', 49, 190, { rot: UP }),
        label('150 mm Hg', 115, 175),
        label('5 min', 104, 254),

        label('0.5 mV', 50, 340, { rot: UP }),
        label('20 mmHg', 50, 432, { rot: UP }),
        label('100 s', 88, 494),
        label('1%', 435, 438, { rot: DOWN }),

        label('P7', 20, 544, { size: 21, weight: 'bold' }),
        label('0 Mg ASCF', 327, 556, { size: 17 }),
        label('0.5 mV', 62, 622, { rot: UP }),
        label('156 mm Hg', 100, 680),
        label('20 mmHg', 65, 750, { rot: UP }),
        label('5 min', 108, 791),

        label('1 mV', 62, 887, { rot: UP }),
        label('20 mmHg', 65, 967, { rot: UP }),
        label('100 s', 110, 1034),
        label('1%', 470, 1008, { rot: DOWN })
    ]
});
</script>
</body>
</html>
